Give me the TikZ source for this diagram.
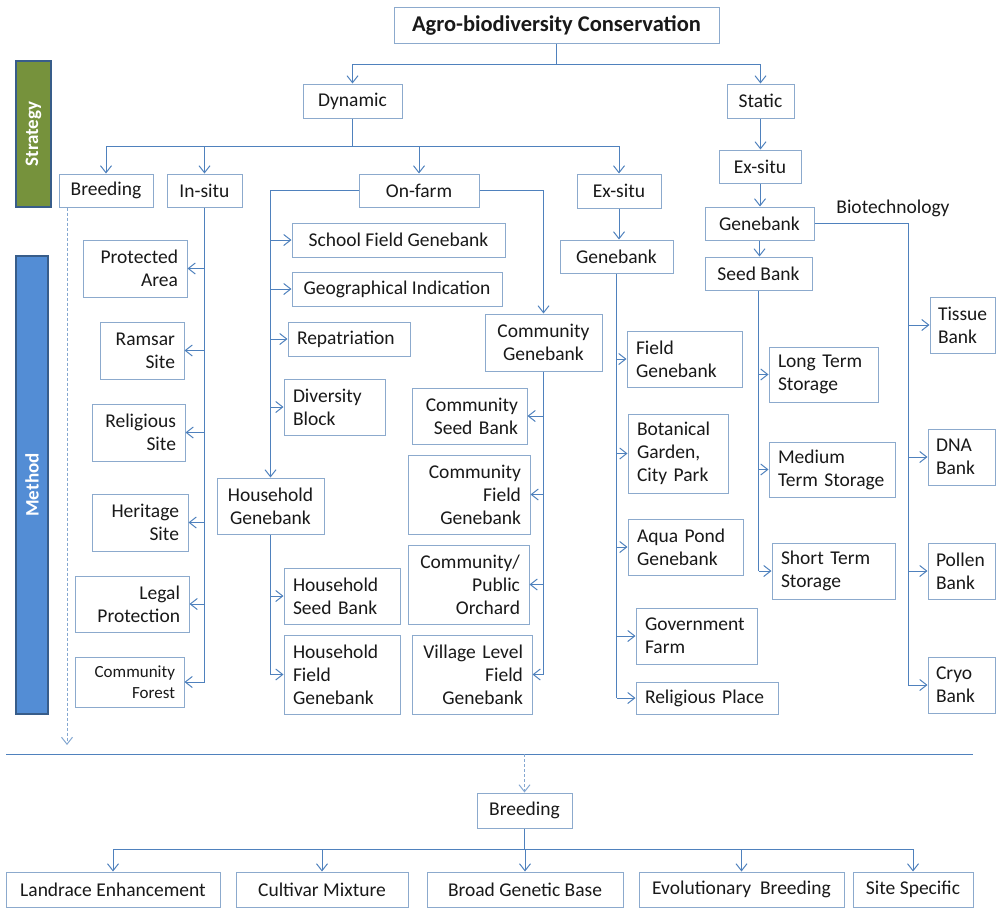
\documentclass[tikz,border=0pt]{standalone}
\usepackage{fontspec}
\setmainfont{Carlito}
\usetikzlibrary{arrows.meta}
\definecolor{linkblue}{RGB}{79,129,189}
\definecolor{boxedge}{RGB}{140,170,205}
\definecolor{stratgreen}{RGB}{118,146,60}
\definecolor{methblue}{RGB}{83,141,213}
\definecolor{baredge}{RGB}{56,93,138}
\hyphenpenalty=10000
\exhyphenpenalty=10000

\begin{document}
\begin{tikzpicture}[x=1pt,y=-1pt,
  plain box/.style={draw=boxedge,line width=1pt,fill=white,inner xsep=9pt,inner ysep=2pt,text=black!90,font=\fontsize{19.5}{23}\selectfont},
  left box/.style={plain box,align=left},
  right box/.style={plain box,align=right},
  mid box/.style={plain box,align=center},
  low box/.style={plain box,minimum height=35pt,font=\fontsize{19.5}{23}\selectfont},
  side bar/.style={draw=baredge,line width=1.5pt,rotate=90,text=white,font=\fontsize{19}{22}\selectfont\bfseries},
  link/.style={draw=linkblue,line width=1pt},
  arrow link/.style={link,-{Straight Barb[length=7pt,width=11pt]}},
  dash link/.style={arrow link,draw=linkblue!70,dash pattern=on 3pt off 2pt}]
  \useasboundingbox (0,0) rectangle (996,908);

  \node[side bar,fill=stratgreen,minimum width=146pt,minimum height=35pt] (strategy) at (33.5,134) {Strategy};
  \node[side bar,fill=methblue,minimum width=458pt,minimum height=32pt] (method) at (32,485) {Method};

  \node[plain box,font=\fontsize{22.5}{26}\selectfont\bfseries,minimum width=325pt,minimum height=36pt] (agro) at (556.5,25) {Agro-biodiversity Conservation};
  \node[plain box,minimum width=99pt,minimum height=34pt] (dynamic) at (352.5,101) {Dynamic};
  \node[plain box,minimum width=67pt,minimum height=34pt] (static) at (760.5,101) {Static};
  \node[plain box,minimum width=94pt,minimum height=33pt] (breeding) at (106,190.5) {Breeding};
  \node[plain box,minimum width=75pt,minimum height=33pt] (insitu) at (204.5,190.5) {In-situ};
  \node[plain box,minimum width=120pt,minimum height=33pt] (onfarm) at (419,190.5) {On-farm};
  \node[plain box,minimum width=84pt,minimum height=34pt] (exsitu) at (619,191) {Ex-situ};
  \node[plain box,minimum width=82pt,minimum height=33pt] (exsituS) at (760,166.5) {Ex-situ};
  \node[plain box,minimum width=109pt,minimum height=33pt] (genebankS) at (759.5,223.5) {Genebank};
  \node[plain box,minimum width=107pt,minimum height=33pt] (seedbank) at (758.5,273.5) {Seed Bank};
  \node[plain box,minimum width=113pt,minimum height=33pt] (genebank) at (616.5,256.5) {Genebank};
  \node[text=black!90,font=\fontsize{19.5}{23}\selectfont] (biotech) at (893,208) {Biotechnology};

  \node[right box,text width=86pt,minimum height=57pt] (protected) at (135,268.5) {Protected\\Area};
  \node[right box,text width=66pt,minimum height=57pt] (ramsar) at (142,350.5) {Ramsar\\Site};
  \node[right box,text width=75pt,minimum height=57pt] (religsite) at (138.5,432.5) {Religious\\Site};
  \node[right box,text width=78pt,minimum height=57pt] (heritage) at (140,522.5) {Heritage\\Site};
  \node[right box,text width=96pt,minimum height=56pt] (legal) at (132,604) {Legal\\Protection};
  \node[right box,text width=91pt,minimum height=50pt,font=\fontsize{17}{20.5}\selectfont] (forest) at (129.5,682) {Community\\Forest};

  \node[plain box,minimum width=213pt,minimum height=34pt] (school) at (398.5,240) {School Field Genebank};
  \node[plain box,minimum width=210pt,minimum height=34pt] (geo) at (397,289) {Geographical Indication};
  \node[left box,text width=104pt,minimum height=34pt] (repat) at (349,339) {Repatriation};
  \node[left box,text width=83pt,minimum height=56pt] (diversity) at (334.5,407) {Diversity\\Block};
  \node[mid box,text width=89pt,minimum height=56pt] (hhgene) at (270.5,506) {Household\\Genebank};
  \node[left box,text width=98pt,minimum height=56pt] (hhseed) at (342,596) {Household\\Seed Bank};
  \node[left box,text width=98pt,minimum height=79pt] (hhfield) at (342,674.5) {Household\\Field\\Genebank};

  \node[mid box,text width=99pt,minimum height=57pt] (commgene) at (543.5,342.5) {Community\\Genebank};
  \node[right box,text width=97pt,minimum height=56pt] (commseed) at (469.5,416) {Community\\Seed Bank};
  \node[right box,text width=104pt,minimum height=79pt] (commfield) at (469,494.5) {Community\\Field\\Genebank};
  \node[right box,text width=103pt,minimum height=79pt] (orchard) at (468.5,584.5) {Community/\\Public\\Orchard};
  \node[right box,text width=102pt,minimum height=79pt] (village) at (472,674.5) {Village Level\\Field\\Genebank};

  \node[left box,text width=97pt,minimum height=56pt] (fieldgb) at (684.5,359) {Field\\Genebank};
  \node[left box,text width=82pt,minimum height=79pt] (botanical) at (678,453.5) {Botanical\\Garden,\\City Park};
  \node[left box,text width=97pt,minimum height=56pt] (aqua) at (685.5,547) {Aqua Pond\\Genebank};
  \node[left box,text width=103pt,minimum height=56pt] (govt) at (696.5,636) {Government\\Farm};
  \node[left box,text width=124pt,minimum height=32pt] (religplace) at (707,698) {Religious Place};

  \node[left box,text width=91pt,minimum height=55pt] (longterm) at (823.5,374.5) {Long Term\\Storage};
  \node[left box,text width=108pt,minimum height=55pt] (medium) at (832,469.5) {Medium\\Term Storage};
  \node[left box,text width=105pt,minimum height=56pt] (short) at (833.5,571) {Short Term\\Storage};

  \node[left box,inner xsep=8pt,text width=49.5pt,minimum height=56pt] (tissue) at (962.75,325) {Tissue\\Bank};
  \node[left box,inner xsep=8pt,text width=51.5pt,minimum height=56pt] (dna) at (961.75,457) {DNA\\Bank};
  \node[left box,inner xsep=8pt,text width=51.5pt,minimum height=56pt] (pollen) at (961.75,571) {Pollen\\Bank};
  \node[left box,inner xsep=8pt,text width=51.5pt,minimum height=56pt] (cryo) at (961.75,685) {Cryo\\Bank};

  \node[low box,minimum width=95pt] (breedingB) at (524.5,810.5) {Breeding};
  \node[low box,minimum width=214pt] (landrace) at (113,889.5) {Landrace Enhancement};
  \node[low box,minimum width=172pt] (cultivar) at (322,889.5) {Cultivar Mixture};
  \node[low box,minimum width=196pt] (broad) at (525,889.5) {Broad Genetic Base};
  \node[low box,minimum width=205pt] (evol) at (741.5,889.5) {Evolutionary~ Breeding};
  \node[low box,minimum width=120pt] (site) at (913,889.5) {Site Specific};

  \coordinate (bioX) at (908,685);
  \coordinate (breedEnd) at (67,745);
  \coordinate (sepL) at (6,754);
  \coordinate (sepR) at (973,754);

  \draw[link] (agro.south) -- ++(0,21) coordinate (agroJ);
  \draw[arrow link] (agroJ) -| (dynamic.north);
  \draw[arrow link] (agroJ) -| (static.north);
  \draw[link] (dynamic.south) -- ++(0,28) coordinate (dynJ);
  \foreach \n in {breeding,insitu,onfarm,exsitu}
    \draw[arrow link] (dynJ) -| (\n.north);

  \draw[arrow link] (static.south) -- (static.south |- exsituS.north);
  \draw[arrow link] (exsituS.south) -- (exsituS.south |- genebankS.north);
  \draw[arrow link] (genebankS.south) -- (genebankS.south |- seedbank.north);
  \draw[arrow link] (exsitu.south) -- (exsitu.south |- genebank.north);

  \draw[link] (genebankS.east) -| (bioX);
  \foreach \n in {tissue,dna,pollen,cryo}
    \draw[arrow link] (bioX |- \n.west) -- (\n.west);
  \draw[link] (seedbank.south) -- (seedbank.south |- short.west);
  \foreach \n in {longterm,medium,short}
    \draw[arrow link] (seedbank.south |- \n.west) -- (\n.west);
  \draw[link] (genebank.south) -- (genebank.south |- religplace.west);
  \foreach \n in {fieldgb,botanical,aqua,govt,religplace}
    \draw[arrow link] (genebank.south |- \n.west) -- (\n.west);

  \draw[link] (insitu.south) -- (insitu.south |- forest.east);
  \foreach \n in {protected,ramsar,religsite,heritage,legal,forest}
    \draw[arrow link] (insitu.south |- \n.east) -- (\n.east);

  \draw[arrow link] (onfarm.west) -| (hhgene.north);
  \foreach \n in {school,geo,repat,diversity}
    \draw[arrow link] (hhgene.north |- \n.west) -- (\n.west);
  \draw[link] (hhgene.south) -- (hhgene.south |- hhfield.west);
  \foreach \n in {hhseed,hhfield}
    \draw[arrow link] (hhgene.south |- \n.west) -- (\n.west);
  \draw[arrow link] (onfarm.east) -| (commgene.north);
  \draw[link] (commgene.south) -- (commgene.south |- village.east);
  \foreach \n in {commseed,commfield,orchard,village}
    \draw[arrow link] (commgene.south |- \n.east) -- (\n.east);

  \draw[dash link] (breedEnd |- breeding.south) -- (breedEnd);
  \draw[link] (sepL) -- (sepR);
  \draw[dash link] (sepL -| breedingB.north) -- (breedingB.north);
  \draw[link] (breedingB.south) -- ++(0,21) coordinate (breedJ);
  \foreach \n in {landrace,cultivar,broad,evol,site}
    \draw[arrow link] (breedJ) -| (\n.north);
\end{tikzpicture}
\end{document}
